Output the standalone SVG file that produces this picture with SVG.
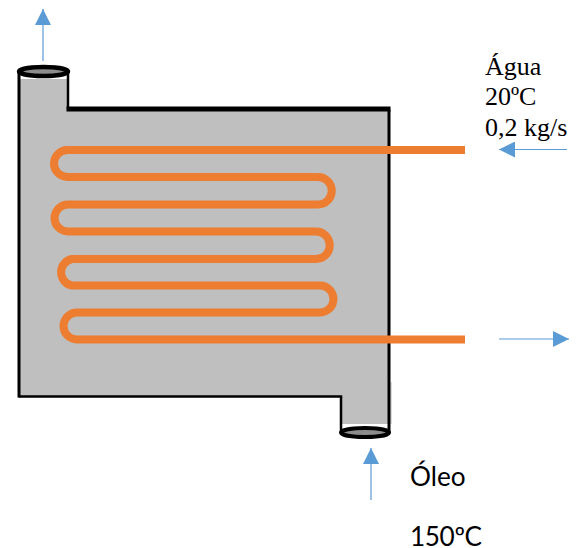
<svg xmlns="http://www.w3.org/2000/svg" width="580" height="548" viewBox="0 0 580 548">
<defs>
<marker id="ah" markerUnits="userSpaceOnUse" markerWidth="16" markerHeight="16" refX="16" refY="8" orient="auto"><path d="M0 0L16 8L0 16Z" fill="#5b9bd5"/></marker>
</defs>
<style>
.wall{fill:none;stroke:#000;stroke-linecap:square}
.port{fill:#8c8c8c;stroke:#000}
.coil{fill:none;stroke:#ed7d31;stroke-width:8}
.flow{fill:none;stroke:#5b9bd5;stroke-width:1.2;marker-end:url(#ah)}
.ag{font-family:"Liberation Serif",serif;font-size:26px;fill:#000}
.ol{font-family:Lato,"Open Sans",sans-serif;font-size:26.2px;fill:#000}
</style>
<rect width="580" height="548" fill="#fff"/>
<g id="shell">
<path d="M20 79H67V110H389V424H341V396H20Z" fill="#bfbfbf"/>
<rect x="389" y="382" width="3" height="42" fill="#dcdcdc"/>
<path class="wall" stroke-width="3" d="M19 74V396"/>
<path class="wall" stroke-width="2.500" d="M68 74V108"/>
<path class="wall" stroke-width="5" d="M69 109H388"/>
<path class="wall" stroke-width="3" d="M389 111V431"/>
<path class="wall" stroke-width="2.500" d="M20 396.500H341"/>
<path class="wall" stroke-width="2.500" d="M341 398V430"/>
</g>
<g id="coil">
<path class="coil" stroke-linecap="butt" d="M465 150H67.500A13.500 13.500 0 0 0 67.500 177H318A13.500 13.500 0 0 1 318 204.500H68A13.500 13.500 0 0 0 68 231.500H316A13.500 13.500 0 0 1 316 259H72A13.500 13.500 0 0 0 72 285.500H320A13.500 13.500 0 0 1 320 312.500H77A13.500 13.500 0 0 0 77 339.500H465"/>
</g>
<g id="port-top"><ellipse class="port" stroke-width="4.500" cx="43.500" cy="71.500" rx="24.500" ry="4.500"/></g>
<g id="port-bottom"><ellipse class="port" stroke-width="4" cx="365" cy="432.500" rx="24" ry="4.500"/></g>
<g id="connectors">
<path class="flow" d="M43 61V9"/>
<path class="flow" d="M567 149.500H499"/>
<path class="flow" d="M499 339H569"/>
<path class="flow" d="M371 500V448"/>
</g>
<g id="label-agua">
<text class="ag" x="485" y="75">Água</text>
<text class="ag" x="485" y="105">20ºC</text>
<text class="ag" x="485" y="136">0,2 kg/s</text>
</g>
<g id="label-oleo">
<text class="ol" x="410" y="486">Óleo</text>
<text class="ol" x="410" y="545.500" textLength="72" lengthAdjust="spacing">150ºC</text>
</g>
</svg>
